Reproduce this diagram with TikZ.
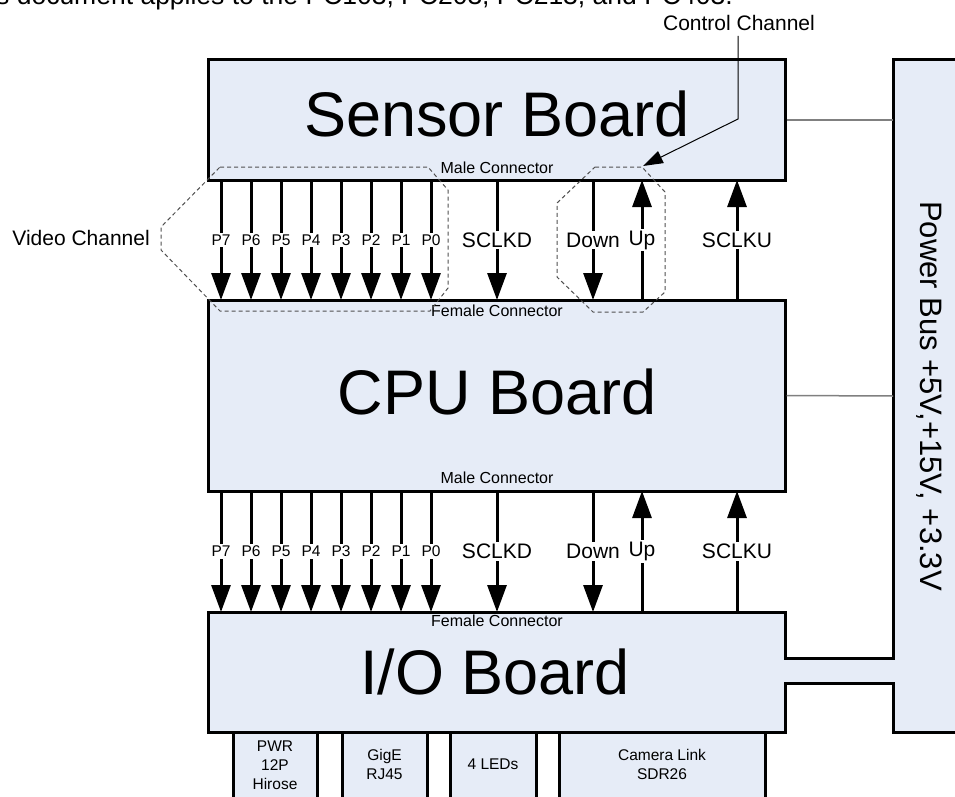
\documentclass[tikz,border=0pt]{standalone}
\usepackage{fontspec}
\setmainfont{Liberation Sans}
\usetikzlibrary{arrows.meta}
\definecolor{boardfill}{RGB}{230,236,247}
\definecolor{dashgray}{RGB}{80,80,80}
\definecolor{pgray}{RGB}{128,128,128}
\begin{document}
\begin{tikzpicture}[x=1pt,y=-1pt,
  board/.style={draw=black, line width=3pt, fill=boardfill, rectangle, inner sep=0pt},
  outline/.style={draw=black, line width=3pt, fill=boardfill, line join=miter},
  bigtext/.style={font=\fontsize{63}{63}\selectfont, inner sep=0pt},
  conntext/.style={font=\fontsize{16}{16}\selectfont, inner sep=0pt},
  sig/.style={line width=3pt},
  sigdown/.style={sig, -{Triangle[length=27pt,width=19pt]}},
  sigup/.style={sig, {Triangle[length=27pt,width=19pt]}-},
  plabel/.style={font=\fontsize{15.5}{16}\selectfont, fill=white, inner sep=2pt},
  blabel/.style={font=\fontsize{21}{21}\selectfont, fill=white, inner sep=2pt},
  note/.style={font=\fontsize{21}{21}\selectfont, inner sep=1pt},
  octa/.style={draw=dashgray, line width=1pt, dash pattern=on 4pt off 3pt},
  pointer/.style={draw=black, line width=1pt, -{Triangle[length=20pt,width=13pt]}},
  pline/.style={draw=pgray, line width=1.5pt},
  smalltext/.style={font=\fontsize{15.5}{19}\selectfont, align=center, inner sep=0pt}
]
\useasboundingbox (0,0) rectangle (955,797);
\clip (0,0) rectangle (955,797);

% cut-off heading
\node[anchor=base west, font=\fontsize{26.5}{26.5}\selectfont, inner sep=0pt] (head) at (-4,5)
  {s document applies to the PC103, PC203, PC213, and PC403.};

% bottom connector boxes
\draw[outline] (233,732) rectangle (317,820);
\draw[outline] (342,732) rectangle (427,820);
\draw[outline] (450,732) rectangle (536,820);
\draw[outline] (559,732) rectangle (765,820);
\node[smalltext] (pwr) at (275,765) {PWR\\12P\\Hirose};
\node[smalltext] (gige) at (384.5,764) {GigE\\RJ45};
\node[smalltext] (leds) at (493,764) {4 LEDs};
\node[smalltext] (clink) at (662,764) {Camera Link\\SDR26};

% I/O board joined with the power bus
\draw[outline] (208,612) -- (785,612) -- (785,658) -- (893,658) -- (893,60) -- (1010,60)
  -- (1010,732) -- (893,732) -- (893,683) -- (785,683) -- (785,732) -- (208,732) -- cycle;
\coordinate (pbw1) at (893,120);
\coordinate (pbw2) at (893,396);

% boards
\node[board, minimum width=577pt, minimum height=120pt] (sensor) at (496.5,120) {};
\node[board, minimum width=577pt, minimum height=191pt] (cpu) at (496.5,395.5) {};

\node[bigtext] (sensortxt) at (497,114) {Sensor Board};
\node[bigtext] (cputxt) at (497,392) {CPU Board};
\node[bigtext] (iotxt) at (495,672) {I/O Board};
\node[font=\fontsize{31}{31}\selectfont, rotate=-90, inner sep=0pt] (pbus) at (929,396)
  {Power Bus +5V,+15V, +3.3V};

\node[conntext] (smale) at (497,168) {Male Connector};
\node[conntext] (cfem) at (497,311) {Female Connector};
\node[conntext] (cmale) at (497,478) {Male Connector};
\node[conntext] (iofem) at (497,621) {Female Connector};

% power connections
\draw[pline] (sensor.east) -- (pbw1);
\draw[pline] (cpu.east) -- (pbw2);

% dashed channel outlines
\draw[octa] (220,167) -- (428,167) -- (448,190) -- (448,288) -- (430,311) -- (220,311)
  -- (161,250) -- (161,227) -- cycle;
\draw[octa] (595,167) -- (642,167) -- (665,192) -- (665,292) -- (643,312) -- (593,312)
  -- (557,277) -- (557,203) -- cycle;

% signal end points
\foreach \n/\x in {7/221,6/251,5/281,4/311,3/341,2/371,1/401,0/431,
                   sd/497,dn/593,up/642,su/737} {
  \coordinate (a\n) at (\x,180);
  \coordinate (b\n) at (\x,300);
  \coordinate (c\n) at (\x,491);
  \coordinate (d\n) at (\x,612);
}
\foreach \n in {7,6,5,4,3,2,1,0} {
  \draw[sigdown] (a\n) -- node[plabel] {P\n} (b\n);
  \draw[sigdown] (c\n) -- node[plabel] {P\n} (d\n);
}
\draw[sigdown] (asd) -- node[blabel] {SCLKD} (bsd);
\draw[sigdown] (csd) -- node[blabel] {SCLKD} (dsd);
\draw[sigdown] (adn) -- node[blabel] {Down} (bdn);
\draw[sigdown] (cdn) -- node[blabel] {Down} (ddn);
\draw[sigup] (aup) -- node[blabel] {Up} (bup);
\draw[sigup] (cup) -- node[blabel] {Up} (dup);
\draw[sigup] (asu) -- node[blabel] {SCLKU} (bsu);
\draw[sigup] (csu) -- node[blabel] {SCLKU} (dsu);

% annotations
\node[note, anchor=east] (video) at (151,238) {Video Channel};
\node[note] (ctrl) at (739,23) {Control Channel};
\coordinate (ctrlbend) at (738,119);
\coordinate (ctrltip) at (643,166);
\draw[pointer] (ctrl.south -| ctrlbend) ++(0,4) -- (ctrlbend) -- (ctrltip);
\end{tikzpicture}
\end{document}
